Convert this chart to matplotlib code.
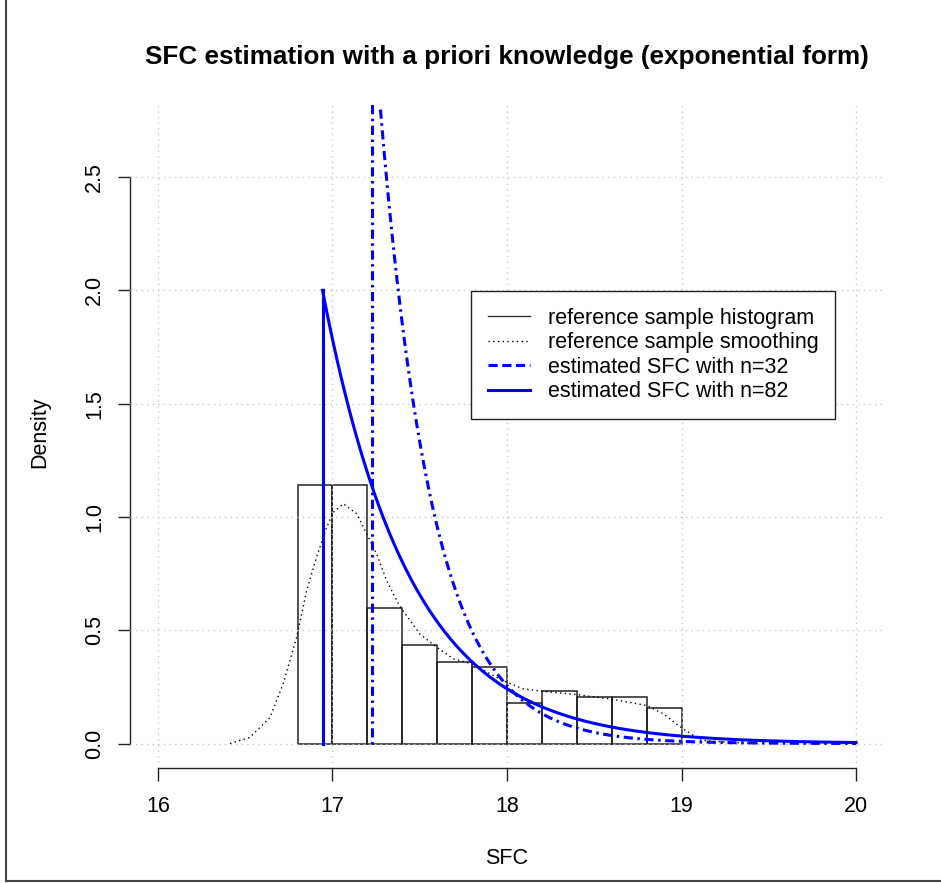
import numpy as np
import matplotlib
matplotlib.use("Agg")
import matplotlib.pyplot as plt
from matplotlib.lines import Line2D

plt.rcParams['font.family'] = ['Liberation Sans', 'DejaVu Sans']

# ---- data ----
bin_edges = [16.8, 17.0, 17.2, 17.4, 17.6, 17.8, 18.0, 18.2, 18.4, 18.6, 18.8, 19.0]
hist_density = [1.139, 1.139, 0.596, 0.437, 0.362, 0.336, 0.181, 0.234, 0.207, 0.207, 0.155]

kde_x = [16.413, 16.527, 16.642, 16.718, 16.795, 16.852, 16.909, 16.967, 17.005, 17.062,
         17.139, 17.196, 17.253, 17.310, 17.368, 17.396, 17.500, 17.597, 17.692, 17.797,
         17.903, 17.998, 18.094, 18.199, 18.400, 18.590, 18.800, 18.896, 18.990, 19.106,
         19.145, 19.300, 19.450]
kde_y = [0.000, 0.027, 0.115, 0.265, 0.469, 0.675, 0.823, 0.955, 1.021, 1.058,
         1.014, 0.926, 0.837, 0.720, 0.631, 0.595, 0.484, 0.425, 0.374, 0.352,
         0.308, 0.271, 0.241, 0.231, 0.216, 0.197, 0.168, 0.131, 0.075, 0.016,
         0.012, 0.004, 0.000]

# estimated exponential SFC: threshold and rate
est_threshold = {"n=32": 17.225, "n=82": 16.943}
est_rate = {"n=32": 3.3, "n=82": 2.0}
x_end = 20.0

x_ticks = [16, 17, 18, 19, 20]
y_ticks = [0.0, 0.5, 1.0, 1.5, 2.0, 2.5]
y_tick_labels = ["0.0", "0.5", "1.0", "1.5", "2.0", "2.5"]

FS = 15.5
W, H = 941, 883
fig = plt.figure(figsize=(W / 100, H / 100), dpi=100)
ax = fig.add_axes([130 / W, 1 - 768 / H, (884 - 130) / W, (768 - 105) / H])
ax.set_xlim(15.84, 20.16)
ax.set_ylim(-0.108, 2.818)

# histogram
edges = np.array(bin_edges)
ax.bar(edges[:-1], hist_density, width=np.diff(edges), align='edge', fill=False,
       edgecolor='#222222', linewidth=1.1, zorder=2)

# grid (drawn over the histogram, like R's grid())
for xv in x_ticks:
    ax.axvline(xv, color='#c8c8c8', linestyle=(0, (1, 3)), linewidth=1.0, zorder=3)
for yv in y_ticks:
    ax.axhline(yv, color='#c8c8c8', linestyle=(0, (1, 3)), linewidth=1.0, zorder=3)

# smoothing
ax.plot(kde_x, kde_y, color='black', linestyle=(0, (1, 2.4)), linewidth=1.0, zorder=4)

dashdot = (0, (0.8, 1.5, 3.0, 1.5))
for key, ls in (("n=32", dashdot), ("n=82", '-')):
    t = est_threshold[key]
    r = est_rate[key]
    xs = np.linspace(t, x_end, 600)
    ys = r * np.exp(-r * (xs - t))
    ax.plot([t, t], [0, r], color='blue', linestyle=ls, linewidth=2.2, zorder=5)
    ax.plot(xs, ys, color='blue', linestyle=ls, linewidth=2.2, zorder=5)

# axes styling (R-like)
for s in ('top', 'right'):
    ax.spines[s].set_visible(False)
ax.spines['left'].set_bounds(0, 2.5)
ax.spines['bottom'].set_bounds(16, 20)
for s in ('left', 'bottom'):
    ax.spines[s].set_linewidth(1.0)
    ax.spines[s].set_color('#222222')
ax.set_xticks(x_ticks)
ax.set_xticklabels([str(v) for v in x_ticks])
ax.set_yticks(y_ticks)
ax.set_yticklabels(y_tick_labels, rotation=90, va='center')
ax.tick_params(axis='both', direction='out', length=9, width=1.0, color='#222222',
               labelsize=FS)
ax.tick_params(axis='x', pad=11)
ax.tick_params(axis='y', pad=9)

fig.text(507 / W, 1 - 858 / H, "SFC", ha='center', va='center', fontsize=FS)
fig.text(40 / W, 1 - 432 / H, "Density", ha='center', va='center', rotation=90, fontsize=FS)
fig.text(507 / W, 1 - 57 / H, "SFC estimation with a priori knowledge (exponential form)",
         ha='center', va='center', fontsize=18.8, fontweight='bold')

handles = [
    Line2D([], [], color='#333333', linewidth=1.0, linestyle='-'),
    Line2D([], [], color='black', linewidth=1.0, linestyle=(0, (1, 2.4))),
    Line2D([], [], color='blue', linewidth=2.2, linestyle=(0, (3.0, 1.5))),
    Line2D([], [], color='blue', linewidth=2.2, linestyle='-'),
]
labels = ["reference sample histogram", "reference sample smoothing",
          "estimated SFC with n=32", "estimated SFC with n=82"]
leg = ax.legend(handles, labels, loc='upper left',
                bbox_to_anchor=(471 / W, 1 - 291 / H), bbox_transform=fig.transFigure,
                borderaxespad=0, fontsize=FS, handlelength=1.95, handletextpad=0.84,
                borderpad=0.78, labelspacing=0.16, fancybox=False, framealpha=1,
                edgecolor='#222222')
leg.get_frame().set_linewidth(1.0)
leg.set_zorder(10)

# outer border: left and bottom edges only, as in the reference screenshot
fig.add_artist(Line2D([6 / W, 6 / W], [1 - 880.5 / H, 1.0], transform=fig.transFigure,
                      color='#444444', linewidth=1.5))
fig.add_artist(Line2D([6 / W, 1.0], [1 - 880.5 / H, 1 - 880.5 / H], transform=fig.transFigure,
                      color='#444444', linewidth=1.5))

fig.savefig("out.png", dpi=100)
